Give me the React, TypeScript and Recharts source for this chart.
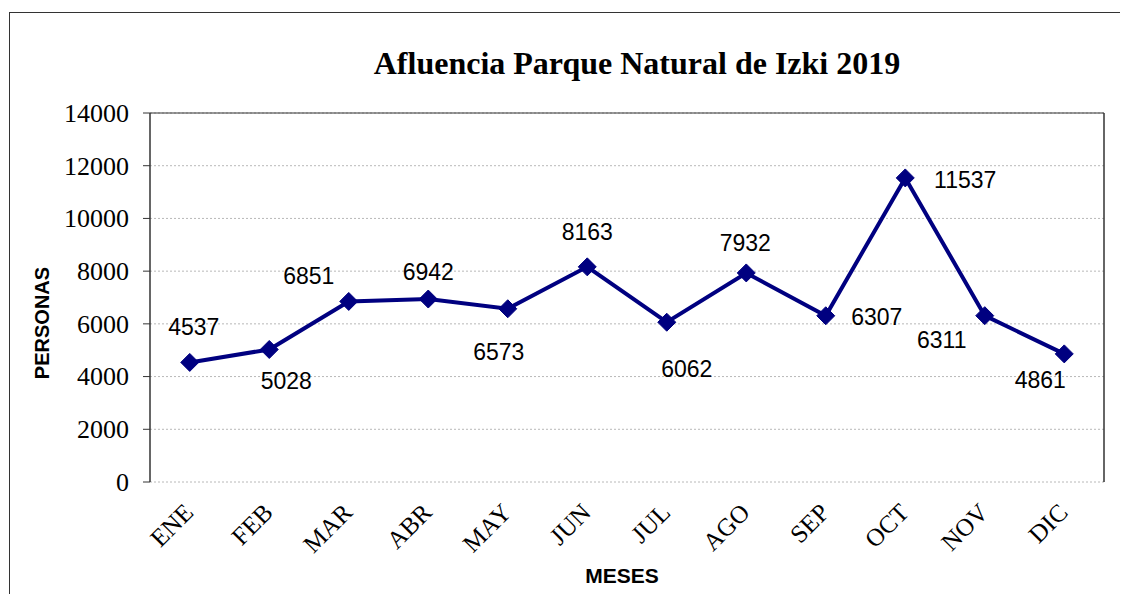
import React from 'react';
import { LineChart, Line, XAxis, YAxis, CartesianGrid, LabelList, ReferenceLine } from 'recharts';

const months = ['ENE', 'FEB', 'MAR', 'ABR', 'MAY', 'JUN', 'JUL', 'AGO', 'SEP', 'OCT', 'NOV', 'DIC'];
const visitors = [4537, 5028, 6851, 6942, 6573, 8163, 6062, 7932, 6307, 11537, 6311, 4861];
const yTicks = [0, 2000, 4000, 6000, 8000, 10000, 12000, 14000];
const boundaryTicks = [0, 1, 2, 3, 4, 5, 6, 7, 8, 9, 10, 11, 12];

// label placement (style only): offset of the label centre from its point
const labelOffsets: [number, number][] = [
  [4, -35], [17, 32], [-40, -25], [0, -27], [-9, 43], [0, -35],
  [20, 47], [-1, -30], [51, 1], [60, 2], [-43, 24], [-24, 26],
];

const data = months.map((m, i) => ({ month: m, value: visitors[i], pos: i + 0.5 }));

const SERIF = '"Liberation Serif", "Times New Roman", serif';
const SANS = '"Liberation Sans", Arial, sans-serif';
const NAVY = '#000080';

const renderDot = (props: any) => {
  const { cx, cy, index } = props;
  if (cx == null || cy == null) return <g key={index} />;
  const r = 9;
  return (
    <polygon
      key={index}
      points={`${cx},${cy - r} ${cx + r},${cy} ${cx},${cy + r} ${cx - r},${cy}`}
      fill={NAVY}
      stroke={NAVY}
    />
  );
};

const renderLabel = (props: any) => {
  const { x, y, value, index } = props;
  const [dx, dy] = labelOffsets[index] || [0, -30];
  return (
    <text
      x={x + dx}
      y={y + dy}
      textAnchor="middle"
      dominantBaseline="central"
      style={{ fontFamily: SANS, fontSize: 23 }}
      fill="#000"
    >
      {value}
    </text>
  );
};

const renderXTick = (props: any) => {
  const { x, y, payload } = props;
  return (
    <g transform={`translate(${x + 5},${y + 32})`}>
      <text textAnchor="end" transform="rotate(-45)" style={{ fontFamily: SERIF, fontSize: 25 }} fill="#000">
        {payload.value}
      </text>
    </g>
  );
};

const renderYTick = (props: any) => {
  const { x, y, payload } = props;
  return (
    <g transform={`translate(${x},${y})`}>
      <text x={0} y={0} dy="0.34em" textAnchor="end" style={{ fontFamily: SERIF, fontSize: 26 }} fill="#000">
        {payload.value}
      </text>
    </g>
  );
};

export default function App() {
  return (
    <div
      style={{
        position: 'relative', width: 1120, height: 586,
        overflow: 'hidden', background: '#fff',
      }}
    >
      <style>{'html, body { overflow: hidden; }'}</style>
      <div style={{ position: 'absolute', left: 1, top: 4, width: 1119, height: 1, background: '#333' }} />
      <div style={{ position: 'absolute', left: 1, top: 4, width: 1, height: 582, background: '#333' }} />
      <LineChart width={1120} height={586} data={data} margin={{ top: 105, right: 24, left: 0, bottom: 0 }}>
        <CartesianGrid vertical={false} stroke="#b8b8b8" strokeDasharray="2 2" />
        <XAxis
          xAxisId={0}
          type="number"
          dataKey="pos"
          domain={[0, 12]}
          ticks={boundaryTicks}
          interval={0}
          tick={false}
          tickSize={7}
          height={0}
          axisLine={{ stroke: '#333', strokeWidth: 1.5 }}
          tickLine={{ stroke: '#333' }}
        />
        <XAxis
          xAxisId="cat"
          dataKey="month"
          type="category"
          scale="band"
          axisLine={false}
          tickLine={false}
          tickSize={0}
          tickMargin={0}
          height={112}
          interval={0}
          tick={renderXTick}
        />
        <YAxis
          domain={[0, 14000]}
          ticks={yTicks}
          interval={0}
          width={142}
          tickSize={7}
          tickMargin={14}
          tick={renderYTick}
          axisLine={{ stroke: '#333', strokeWidth: 1.5 }}
          tickLine={{ stroke: '#333' }}
        />
        <ReferenceLine y={14000} stroke="#333" />
        <ReferenceLine x={12} xAxisId={0} stroke="#333" strokeWidth={1.5} />
        <Line
          xAxisId="cat"
          dataKey="value"
          stroke={NAVY}
          strokeWidth={4}
          dot={renderDot}
          activeDot={false}
          isAnimationActive={false}
        >
          <LabelList dataKey="value" content={renderLabel} />
        </Line>
      </LineChart>
      <div
        style={{
          position: 'absolute', left: 229, width: 800, top: 39, textAlign: 'center',
          fontFamily: SERIF, fontWeight: 'bold', fontSize: 32, lineHeight: '32px', color: '#000',
        }}
      >
        Afluencia Parque Natural de Izki 2019
      </div>
      <div
        style={{
          position: 'absolute', left: 34, top: 315, transform: 'translate(-50%, -50%) rotate(-90deg)',
          fontFamily: SANS, fontWeight: 'bold', fontSize: 20, lineHeight: '20px', whiteSpace: 'nowrap', color: '#000',
        }}
      >
        PERSONAS
      </div>
      <div
        style={{
          position: 'absolute', left: 614, top: 567, transform: 'translate(-50%, -50%)',
          fontFamily: SANS, fontWeight: 'bold', fontSize: 21, lineHeight: '21px', whiteSpace: 'nowrap', color: '#000',
        }}
      >
        MESES
      </div>
    </div>
  );
}
